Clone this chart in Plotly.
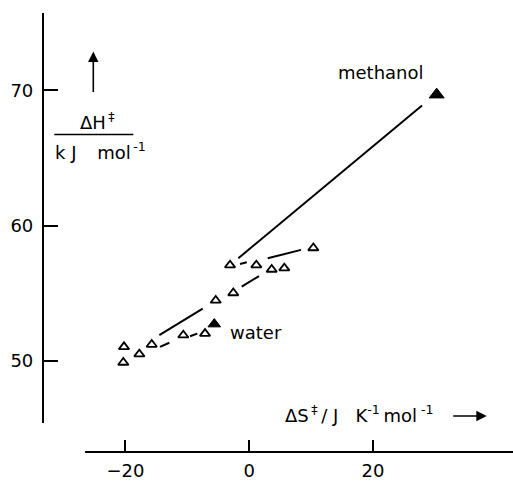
import plotly.graph_objects as go

# ---- data (ΔS‡ in J K-1 mol-1, ΔH‡ in kJ mol-1) ----
open_ds = [-20.23, -20.34, -17.75, -15.75, -10.65, -7.14, -5.41, -2.57, -3.10, 1.15, 3.63, 5.67, 10.36]
open_dh = [51.03, 49.87, 50.49, 51.20, 51.89, 52.01, 54.46, 55.01, 57.07, 57.07, 56.75, 56.85, 58.34]

solvent_names = ["water", "methanol"]
solvent_ds = [-5.64, 30.29]
solvent_dh = [52.71, 69.68]

# correlation lines (drawn interrupted where they cross the symbols)
line_a_ds = [-1.76, 27.92]
line_a_dh = [57.58, 68.87]
line_b_ds = [-14.52, -7.51, None, -1.21, 1.58]
line_b_dh = [51.89, 53.85, None, 55.49, 56.26]
line_c_ds = [-14.41, -12.91, None, -9.56, -8.38]
line_c_dh = [51.03, 51.33, None, 51.81, 52.01]
line_d_ds = [-1.49, -0.40, None, 2.99, 8.37]
line_d_dh = [57.16, 57.29, None, 57.58, 58.20]

x_tickvals = [-20, 0, 20]
x_ticktext = ["\u221220", "0", "20"]
y_tickvals = [50, 60, 70]
y_ticktext = ["50", "60", "70"]

label_pos_ds = [1.02, 21.34]
label_pos_dh = [52.12, 71.34]

W, H = 513, 481
FONT = "DejaVu Sans, Verdana, sans-serif"


def px(xp):
    return xp / W


def py(yp):
    return 1 - yp / H


fig = go.Figure()

for xs, ys in [(line_a_ds, line_a_dh), (line_b_ds, line_b_dh),
               (line_c_ds, line_c_dh), (line_d_ds, line_d_dh)]:
    fig.add_trace(go.Scatter(x=xs, y=ys, mode="lines",
                             line=dict(color="black", width=2),
                             connectgaps=False, hoverinfo="skip", showlegend=False))

fig.add_trace(go.Scatter(x=open_ds, y=open_dh, mode="markers",
                         marker=dict(symbol="triangle-up-open", size=9, color="black",
                                     opacity=1, line=dict(color="black", width=1.8)),
                         showlegend=False))

fig.add_trace(go.Scatter(x=solvent_ds, y=solvent_dh, mode="markers",
                         marker=dict(symbol="triangle-up", size=[11, 13], color="black",
                                     opacity=1, line=dict(color="black", width=1)),
                         showlegend=False))

annotations = []
for name, lx, ly in zip(solvent_names, label_pos_ds, label_pos_dh):
    annotations.append(dict(x=lx, y=ly, xref="x", yref="y", text=name, showarrow=False,
                            xanchor="center", yanchor="middle",
                            font=dict(family=FONT, size=18, color="black")))

# y-axis label: arrow, ΔH‡ over kJ mol-1
annotations.append(dict(x=px(93.3), y=py(51.7), xref="paper", yref="paper", text="",
                        showarrow=True, ax=0, ay=42, arrowhead=2, arrowsize=1.3,
                        arrowwidth=1.6, arrowcolor="black"))
annotations.append(dict(x=px(97.5), y=py(122), xref="paper", yref="paper",
                        text="\u0394H<sup>\u2009\u2021</sup>", showarrow=False,
                        xanchor="center", yanchor="middle",
                        font=dict(family=FONT, size=18, color="black")))
annotations.append(dict(x=px(53), y=py(152), xref="paper", yref="paper",
                        text="k\u00a0J\u00a0\u00a0\u00a0\u2009mol<sup>\u2009-1</sup>", showarrow=False,
                        xanchor="left", yanchor="middle",
                        font=dict(family=FONT, size=18, color="black")))

# x-axis label with arrow
annotations.append(dict(x=px(283), y=py(416), xref="paper", yref="paper",
                        text="\u0394S<sup>\u2009\u2021</sup>\u2009/\u00a0J\u00a0\u00a0\u00a0K<sup>-1</sup>"
                             "\u2009mol<sup>\u00a0-1</sup>",
                        showarrow=False, xanchor="left", yanchor="middle",
                        font=dict(family=FONT, size=18, color="black")))
annotations.append(dict(x=px(486.7), y=py(417.7), xref="paper", yref="paper", text="",
                        showarrow=True, ax=-35, ay=0, arrowhead=2, arrowsize=1.3,
                        arrowwidth=1.6, arrowcolor="black"))

shapes = [dict(type="line", xref="paper", yref="paper",
               x0=px(54.3), x1=px(133.3), y0=py(135), y1=py(135),
               line=dict(color="black", width=1.6))]

fig.update_layout(
    width=W, height=H,
    margin=dict(l=0, r=0, t=0, b=0, pad=0),
    paper_bgcolor="white", plot_bgcolor="white",
    font=dict(family=FONT, size=18, color="black"),
    showlegend=False,
    annotations=annotations,
    shapes=shapes,
    xaxis=dict(domain=[85 / W, 1], range=[-26.53, 42.62], anchor="free",
               position=1 - 454.3 / H,
               showline=True, linecolor="black", linewidth=1.6,
               ticks="inside", ticklen=12, tickwidth=1.6, tickcolor="black",
               tickvals=x_tickvals, ticktext=x_ticktext, ticklabelstandoff=2,
               tickfont=dict(family=FONT, size=18, color="black"),
               showgrid=False, zeroline=False),
    yaxis=dict(domain=[1 - 425 / H, 1 - 13.3 / H], range=[45.38, 75.70], anchor="free",
               position=42.7 / W,
               showline=True, linecolor="black", linewidth=1.6,
               ticks="inside", ticklen=14, tickwidth=1.6, tickcolor="black",
               tickvals=y_tickvals, ticktext=y_ticktext, ticklabelstandoff=5,
               tickfont=dict(family=FONT, size=18, color="black"),
               showgrid=False, zeroline=False),
)

fig.write_html("out.html")
